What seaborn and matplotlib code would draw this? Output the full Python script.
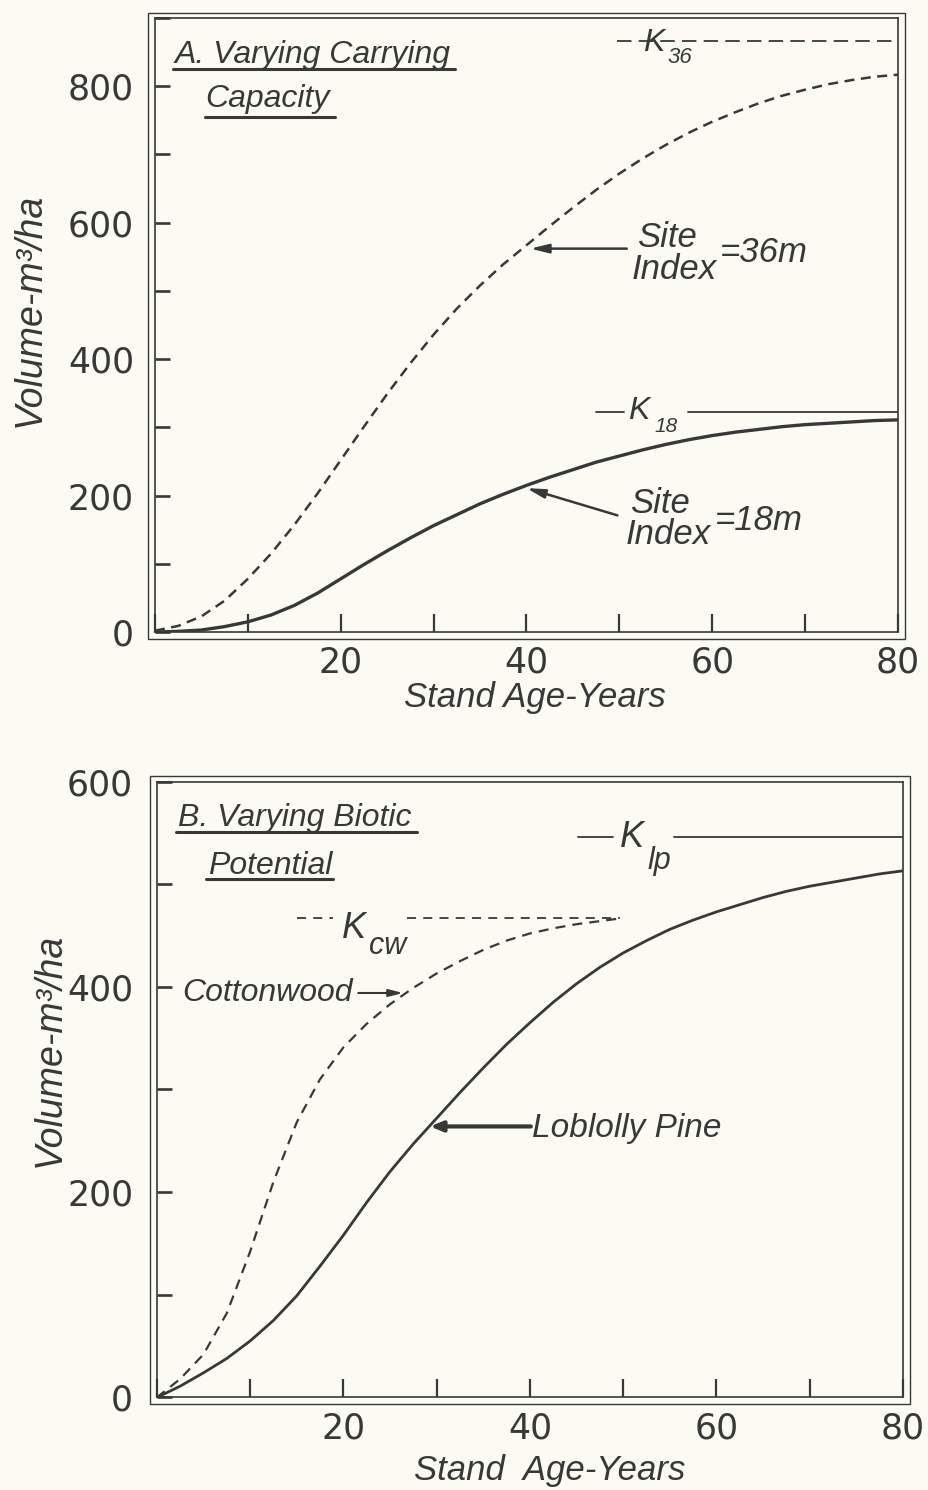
import matplotlib
matplotlib.use("Agg")
import matplotlib.pyplot as plt
from matplotlib.patches import Rectangle
import pandas as pd
import seaborn as sns

# ---------------- data ----------------
age = [0, 2.5, 5, 7.5, 10, 12.5, 15, 17.5, 20, 22.5, 25, 27.5, 30, 32.5, 35, 37.5,
       40, 42.5, 45, 47.5, 50, 52.5, 55, 57.5, 60, 62.5, 65, 67.5, 70, 72.5, 75, 77.5, 80]
vol_si36 = [2, 9, 23, 46, 78, 115, 157, 203, 252, 301, 349, 394, 436, 474, 508, 539,
            567, 595, 622, 648, 672, 694, 714, 732, 748, 762, 775, 786, 795, 803, 809, 814, 817]
vol_si18 = [0, 1, 3, 8, 15, 25, 39, 57, 78, 99, 119, 138, 156, 172, 188, 202,
            215, 227, 238, 249, 258, 267, 275, 282, 288, 293, 297, 301, 304, 306, 308, 310, 311]
age_cw = [0, 2.5, 5, 7.5, 10, 12.5, 15, 17.5, 20, 22.5, 25, 27.5, 30, 32.5, 35, 37.5,
          40, 42.5, 45, 47.5, 50]
vol_cottonwood = [0, 18, 42, 82, 142, 210, 268, 310, 341, 364, 383, 399, 413, 425, 436, 445,
                  452, 457, 461, 464, 467]
vol_loblolly = [0, 11, 24, 38, 55, 75, 99, 128, 158, 190, 220, 247, 272, 297, 321, 344,
                365, 385, 403, 419, 433, 445, 456, 465, 473, 480, 487, 493, 498, 502, 506, 510, 513]
k36, k18, kcw, klp = 866, 322, 467, 546

x_ticks = list(range(0, 81, 10))
x_ticklabels = ["", "", "20", "", "40", "", "60", "", "80"]
y_ticks_a = list(range(0, 901, 100))
y_ticklabels_a = ["0", "", "200", "", "400", "", "600", "", "800", ""]
y_ticks_b = list(range(0, 601, 100))
y_ticklabels_b = ["0", "", "200", "", "400", "", "600"]

dfA = pd.DataFrame({"age": age, "si36": vol_si36, "si18": vol_si18})
dfB = pd.DataFrame({"age": age, "loblolly": vol_loblolly})
dfC = pd.DataFrame({"age": age_cw, "cottonwood": vol_cottonwood})

# ---------------- style ----------------
sns.set_theme(style="white")
plt.rcParams["font.family"] = ["DejaVu Sans"]
INK = "#383838"
BG = "#fbfbf4"
FONT = dict(family="Liberation Sans", style="italic", color=INK)

fig = plt.figure(figsize=(9.29, 14.90), dpi=100, facecolor=BG)
axA = fig.add_axes([0.1668, 0.5758, 0.7998, 0.4121])
axB = fig.add_axes([0.1688, 0.0621, 0.8032, 0.4134])


def style(ax, yt, ytl, ymax, ypad):
    ax.set_facecolor(BG)
    ax.set_xlim(0, 80)
    ax.set_ylim(0, ymax)
    ax.set_xticks(x_ticks)
    ax.set_xticklabels(x_ticklabels)
    ax.set_yticks(yt)
    ax.set_yticklabels(ytl)
    ax.tick_params(axis="x", direction="in", length=13, width=1.6, color=INK,
                   labelsize=25, labelcolor=INK, pad=10, bottom=True)
    ax.tick_params(axis="y", direction="in", length=11, width=1.9, color=INK,
                   labelsize=25, labelcolor=INK, pad=ypad, left=True)
    ax.grid(False)
    for s in ax.spines.values():
        s.set_visible(True)
        s.set_color(INK)
        s.set_linewidth(1.2)
    ax.add_patch(Rectangle((-0.009, -0.011), 1.018, 1.02, transform=ax.transAxes,
                           fill=False, ec=INK, lw=1.0, clip_on=False))


style(axA, y_ticks_a, y_ticklabels_a, 900, 15)
style(axB, y_ticks_b, y_ticklabels_b, 600, 17)

ARROW_THIN = dict(arrowstyle="-|>,head_length=0.9,head_width=0.22",
                  color=INK, lw=1.8, shrinkA=0, shrinkB=0)

# ---------------- panel A ----------------
sns.lineplot(data=dfA, x="age", y="si36", ax=axA, color=INK, lw=1.8,
             linestyle=(0, (4, 2.6)))
sns.lineplot(data=dfA, x="age", y="si18", ax=axA, color=INK, lw=2.4)

axA.plot([49.7, 80], [k36, k36], color=INK, lw=1.3, linestyle=(0, (8, 4)))
axA.text(52.5, 864, "K", va="center", ha="left", fontsize=23, **FONT)
axA.text(55.2, 842, "36", va="center", ha="left", fontsize=16, **FONT)

axA.plot([47.5, 50.5], [k18, k18], color=INK, lw=1.3)
axA.plot([57.4, 80], [k18, k18], color=INK, lw=1.3)
axA.text(50.9, 324, "K", va="center", ha="left", fontsize=23, **FONT)
axA.text(53.8, 302, "18", va="center", ha="left", fontsize=15, **FONT)

axA.text(51.9, 578, "Site", va="center", ha="left", fontsize=25, **FONT)
axA.text(51.3, 532, "Index", va="center", ha="left", fontsize=25, **FONT)
axA.text(60.8, 556, "=36m", va="center", ha="left", fontsize=25, **FONT)
axA.annotate("", xy=(40.4, 562), xytext=(50.8, 562), arrowprops=ARROW_THIN)

axA.text(51.1, 189, "Site", va="center", ha="left", fontsize=25, **FONT)
axA.text(50.7, 143, "Index", va="center", ha="left", fontsize=25, **FONT)
axA.text(60.3, 163, "=18m", va="center", ha="left", fontsize=25, **FONT)
axA.annotate("", xy=(40.0, 211), xytext=(49.8, 171), arrowprops=ARROW_THIN)

axA.text(0.027, 0.927, "A. Varying Carrying", transform=axA.transAxes,
         va="baseline", ha="left", fontsize=23, **FONT)
axA.text(0.067, 0.855, "Capacity", transform=axA.transAxes,
         va="baseline", ha="left", fontsize=23, **FONT)
axA.plot([0.024, 0.404], [0.917, 0.917], transform=axA.transAxes, color=INK, lw=2.2)
axA.plot([0.067, 0.242], [0.839, 0.839], transform=axA.transAxes, color=INK, lw=2.2)

axA.set_xlabel("Stand Age-Years", fontsize=25, **FONT)
axA.xaxis.set_label_coords(0.511, -0.107)
axA.xaxis.label.set_va("center")
axA.set_ylabel("Volume-m³/ha", fontsize=27, **FONT)
axA.yaxis.label.set_rotation_mode("default")
axA.yaxis.label.set_va("center")
axA.yaxis.set_label_coords(-0.168, 0.524)

# ---------------- panel B ----------------
sns.lineplot(data=dfC, x="age", y="cottonwood", ax=axB, color=INK, lw=1.6,
             linestyle=(0, (4.5, 3.2)))
sns.lineplot(data=dfB, x="age", y="loblolly", ax=axB, color=INK, lw=2.0)

axB.plot([15.0, 18.9], [kcw, kcw], color=INK, lw=1.3, linestyle=(0, (5, 4)))
axB.plot([26.8, 49.7], [kcw, kcw], color=INK, lw=1.3, linestyle=(0, (5, 4)))
axB.text(19.8, 457, "K", va="center", ha="left", fontsize=26, **FONT)
axB.text(22.8, 440, "cw", va="center", ha="left", fontsize=22, **FONT)

axB.plot([45.2, 48.9], [klp, klp], color=INK, lw=1.3)
axB.plot([55.5, 80], [klp, klp], color=INK, lw=1.3)
axB.text(49.6, 545, "K", va="center", ha="left", fontsize=26, **FONT)
axB.text(52.6, 523, "lp", va="center", ha="left", fontsize=22, **FONT)

axB.text(2.7, 394, "Cottonwood", va="center", ha="left", fontsize=23, **FONT)
axB.annotate("", xy=(26.4, 394), xytext=(21.6, 394),
             arrowprops=dict(arrowstyle="-|>,head_length=0.7,head_width=0.18",
                             color=INK, lw=1.5, shrinkA=0, shrinkB=0))

axB.text(40.2, 262, "Loblolly Pine", va="center", ha="left", fontsize=24, **FONT)
axB.annotate("", xy=(29.3, 264), xytext=(40.1, 264),
             arrowprops=dict(arrowstyle="-|>,head_length=0.6,head_width=0.25",
                             color=INK, lw=3.0, shrinkA=0, shrinkB=0))

axB.text(0.028, 0.9277, "B. Varying Biotic", transform=axB.transAxes,
         va="baseline", ha="left", fontsize=23, **FONT)
axB.text(0.069, 0.850, "Potential", transform=axB.transAxes,
         va="baseline", ha="left", fontsize=23, **FONT)
axB.plot([0.026, 0.349], [0.9185, 0.9185], transform=axB.transAxes, color=INK, lw=2.2)
axB.plot([0.066, 0.236], [0.841, 0.841], transform=axB.transAxes, color=INK, lw=2.2)

axB.set_xlabel("Stand  Age-Years", fontsize=25, **FONT)
axB.xaxis.set_label_coords(0.526, -0.118)
axB.xaxis.label.set_va("center")
axB.set_ylabel("Volume-m³/ha", fontsize=27, **FONT)
axB.yaxis.label.set_rotation_mode("default")
axB.yaxis.label.set_va("center")
axB.yaxis.set_label_coords(-0.143, 0.564)

fig.savefig("out.png", dpi=100, facecolor=BG)
